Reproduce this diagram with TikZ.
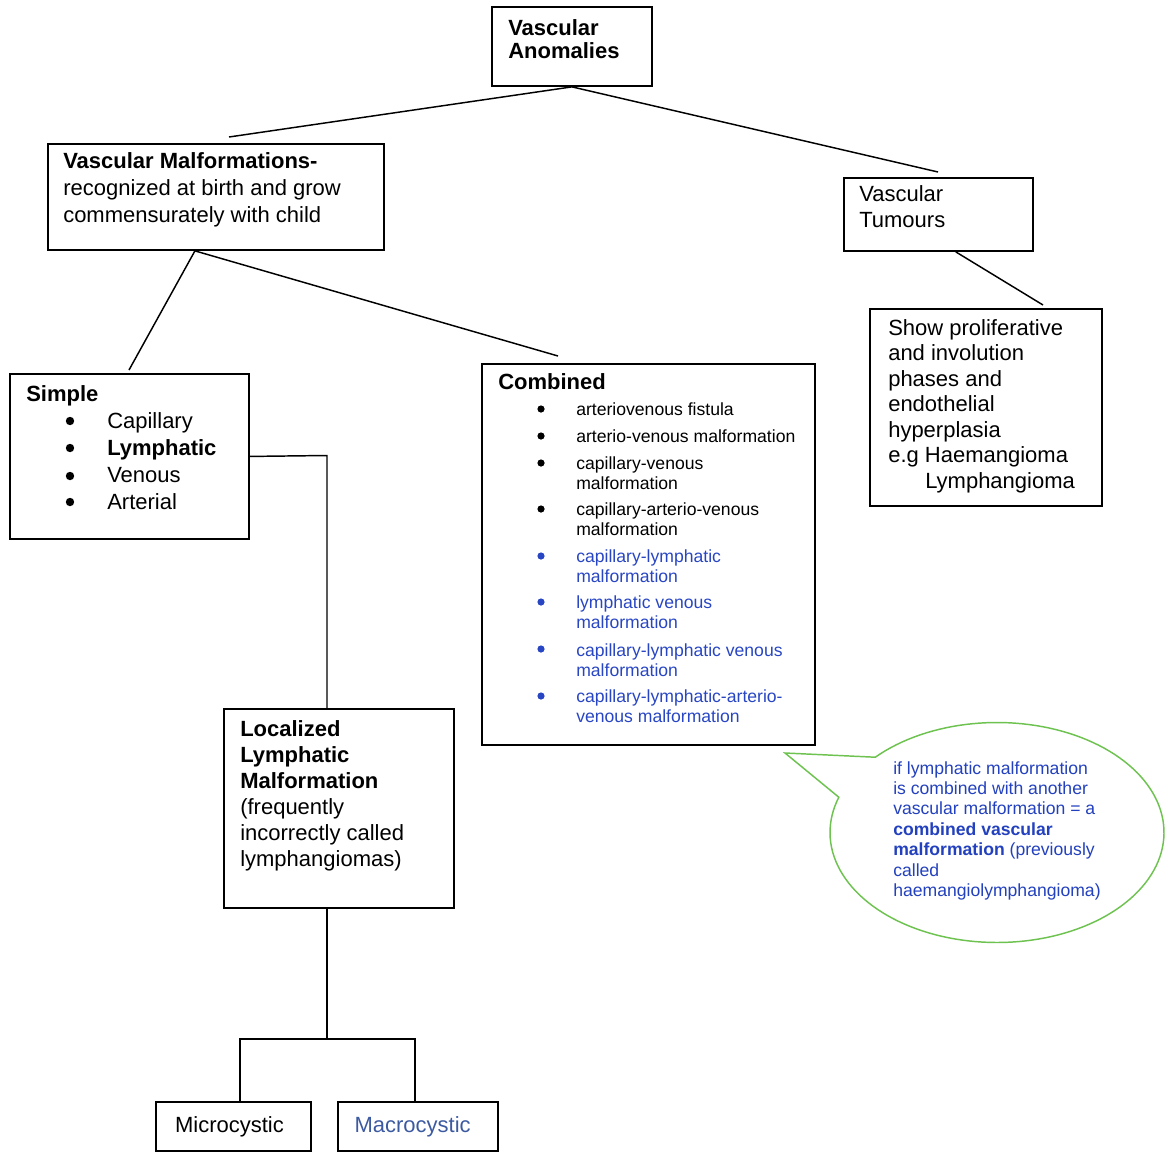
\documentclass[tikz,border=0pt]{standalone}
\usepackage{fontspec}
\setmainfont{Liberation Sans}
\usetikzlibrary{calc}
\definecolor{itemblue}{RGB}{40,70,195}
\definecolor{noteblue}{RGB}{35,65,190}
\definecolor{macroblue}{RGB}{60,90,160}
\definecolor{calloutgreen}{RGB}{110,195,80}
\begin{document}
\begin{tikzpicture}[x=0.75pt,y=-0.75pt,
  box/.style={draw, line width=1.4pt, inner sep=0, anchor=north west},
  sz/.style 2 args={minimum width={#1*0.75pt}, minimum height={#2*0.75pt}},
  txt/.style={anchor=north west, inner sep=0, align=left},
  fs/.style={font=\fontsize{16.5}{#1}\selectfont},
  fsb/.style={font=\fontsize{16.5}{#1}\selectfont\bfseries},
  small/.style={txt, font=\fontsize{13.2}{15}\selectfont},
  conn/.style={line width=1.1pt},
  dot/.style={fill=black},
  bluedot/.style={fill=itemblue},
  callout/.style={draw=calloutgreen, line width=1.1pt, fill=white}
]
\useasboundingbox (0,0) rectangle (1167,1153);

% ---------- boxes ----------
\node[box, sz={160}{79}] (VA) at (491,6) {};
\node[box, sz={336}{106}] (VM) at (47,143) {};
\node[box, sz={189}{73}] (VT) at (843,177) {};
\node[box, sz={232}{197}] (SP) at (869,308) {};
\node[box, sz={239}{165}] (S) at (9,373) {};
\node[box, sz={333}{381}] (C) at (481,363) {};
\node[box, sz={230}{199}] (L) at (223,708) {};
\node[box, sz={155}{49}, fs=19.5] (Mi) at (155,1101) {\hspace*{-6pt}Microcystic};
\node[box, sz={160}{49}, fs=19.5, text=macroblue] (Ma) at (337,1101) {\hspace*{-8pt}Macrocystic};

% ---------- texts ----------
\node[txt, fsb=17.25] (tVA) at (508,19) {Vascular\\Anomalies};
\node[txt, fs=20.25] (tVM) at (63,152) {{\bfseries Vascular Malformations-}\\recognized at birth and grow\\commensurately with child};
\node[txt, fs=19.5] (tVT) at (859,185) {Vascular\\Tumours};
\node[txt, fs=19.1] (tSP) at (888,319) {Show proliferative\\and involution\\phases and\\endothelial\\hyperplasia\\e.g Haemangioma\\\hspace*{27.75pt}Lymphangioma};
\node[txt, fsb=20.25] (tS) at (26,385) {Simple};
\node[txt, fs=20.25] (tSi) at (107,412) {Capillary\\{\bfseries Lymphatic}\\Venous\\Arterial};
\node[txt, fs=19.5] (tL) at (240,720) {{\bfseries Localized}\\{\bfseries Lymphatic}\\{\bfseries Malformation}\\(frequently\\incorrectly called\\lymphangiomas)};
\node[txt, fsb=19.5] (tC) at (498,373) {Combined};

\node[small] (c1) at (576,402) {arteriovenous fistula};
\node[small] (c2) at (576,429) {arterio-venous malformation};
\node[small] (c3) at (576,456) {capillary-venous\\malformation};
\node[small] (c4) at (576,502) {capillary-arterio-venous\\malformation};
\node[small, text=itemblue] (c5) at (576,549) {capillary-lymphatic\\malformation};
\node[small, text=itemblue] (c6) at (576,595) {lymphatic venous\\malformation};
\node[small, text=itemblue] (c7) at (576,643) {capillary-lymphatic venous\\malformation};
\node[small, text=itemblue] (c8) at (576,689) {capillary-lymphatic-arterio-\\venous malformation};

% bullets
\foreach \y in {421,448,476,502} \fill[dot] (70,\y) circle[radius=4.2];
\foreach \y in {409,436,463,509} \fill[dot] (541,\y) circle[radius=3.6];
\foreach \y in {556,602,649,696} \fill[bluedot] (541,\y) circle[radius=3.6];

% ---------- callout ----------
\coordinate (tip) at (785,753);
\draw[callout] (tip) -- plot[domain=-136.8:198.7, samples=140] ({997+167*cos(\x)},{832.5+110*sin(\x)}) -- cycle;
\node[txt, font=\fontsize{13.2}{15.3}\selectfont, text=noteblue] (note) at (893,761)
  {if lymphatic malformation\\is combined with another\\vascular malformation = a\\{\bfseries combined vascular}\\{\bfseries malformation} (previously\\called\\haemangiolymphangioma)};

% ---------- connectors ----------
\coordinate (eVM) at (229,137);
\coordinate (eVT) at (938,172);
\coordinate (eS) at (129,370);
\coordinate (eC) at (558,356);
\coordinate (eSP) at (1043,305);
\coordinate (jL) at (327,455.5);
\coordinate (bMi) at (240,1039);
\coordinate (bMa) at (415,1039);

\draw[conn] (VA.south) -- (eVM);
\draw[conn] (VA.south) -- (eVT);
\draw[conn] ([xshift=-15.75pt]VM.south) -- (eS);
\draw[conn] ([xshift=-15.75pt]VM.south) -- (eC);
\draw[conn] ([xshift=13pt]VT.south) -- (eSP);
\draw[conn] (S.east) -- (jL) -- (L.north -| jL);
\draw[conn] (L.south -| jL) -- (jL |- bMi);
\draw[conn] (Mi.north -| bMi) -- (bMi) -- (bMa) -- (Ma.north -| bMa);
\end{tikzpicture}
\end{document}
